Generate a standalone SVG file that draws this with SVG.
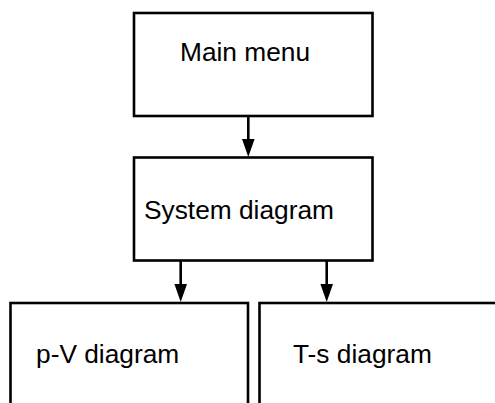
<svg xmlns="http://www.w3.org/2000/svg" width="495" height="403" viewBox="0 0 495 403">
<style>
.box{fill:#fff;stroke:#000;stroke-width:2.6}
.lbl{font-family:"Liberation Sans",Arial,Helvetica,sans-serif;font-size:26.3px;fill:#000}
.con{stroke:#000;stroke-width:2.6;fill:none}
.head{fill:#000}
</style>
<rect width="495" height="403" fill="#fff"/>
<g id="main-menu">
<rect class="box" x="134" y="13" width="238.5" height="103"/>
<text class="lbl" x="180" y="61">Main menu</text>
</g>
<g id="system-diagram">
<rect class="box" x="134" y="157.5" width="238.5" height="103"/>
<text class="lbl" x="144" y="219">System diagram</text>
</g>
<g id="pv-diagram">
<rect class="box" x="10.5" y="303" width="237.5" height="120"/>
<text class="lbl" x="36" y="363">p-V diagram</text>
</g>
<g id="ts-diagram">
<rect class="box" x="259.5" y="303" width="260" height="120"/>
<text class="lbl" x="293" y="363">T-s diagram</text>
</g>
<g id="connectors">
<line class="con" x1="248.3" y1="116" x2="248.3" y2="140"/>
<path class="head" d="M242,139 L254.6,139 L248.3,157 Z"/>
<line class="con" x1="180.7" y1="261" x2="180.7" y2="285"/>
<path class="head" d="M174.4,284 L187,284 L180.7,302 Z"/>
<line class="con" x1="326.7" y1="261" x2="326.7" y2="285"/>
<path class="head" d="M320.4,284 L333,284 L326.7,302 Z"/>
</g>
</svg>
